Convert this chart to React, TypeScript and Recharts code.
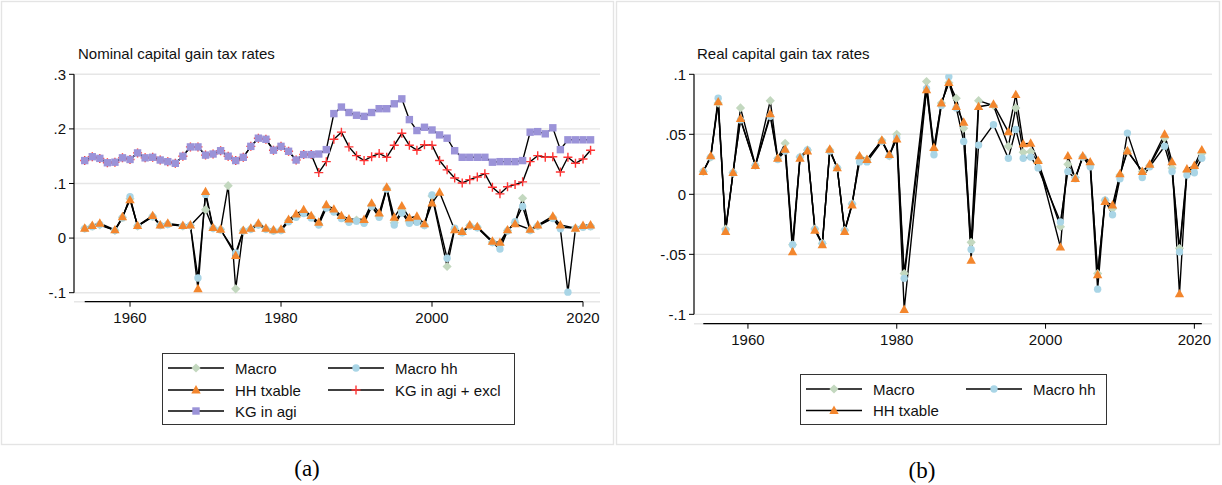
import React from "react";
import { LineChart, Line, XAxis, YAxis, CartesianGrid, ReferenceLine } from "recharts";

const FONT = '"Liberation Sans", Arial, Helvetica, sans-serif';

const years = [
  1954, 1955, 1956, 1957, 1958, 1959, 1960, 1961, 1962, 1963,
  1964, 1965, 1966, 1967, 1968, 1969, 1970, 1971, 1972, 1973,
  1974, 1975, 1976, 1977, 1978, 1979, 1980, 1981, 1982, 1983,
  1984, 1985, 1986, 1987, 1988, 1989, 1990, 1991, 1992, 1993,
  1994, 1995, 1996, 1997, 1998, 1999, 2000, 2001, 2002, 2003,
  2004, 2005, 2006, 2007, 2008, 2009, 2010, 2011, 2012, 2013,
  2014, 2015, 2016, 2017, 2018, 2019, 2020, 2021,
];

// (a) nominal rates
const nominalMacro = [
  0.018, 0.022, 0.024, null, 0.014, 0.038, 0.072, 0.022, null, 0.04,
  0.024, 0.026, null, 0.022, 0.023, null, 0.052, 0.018, 0.016, 0.096,
  -0.093, 0.014, 0.017, 0.025, 0.017, 0.014, 0.015, 0.032, 0.04, 0.048,
  0.039, 0.026, 0.057, 0.049, 0.038, 0.031, 0.033, 0.029, 0.06, 0.041,
  0.091, 0.028, 0.05, 0.03, 0.032, 0.024, 0.077, null, -0.052, 0.016,
  0.011, 0.023, 0.02, null, -0.007, -0.012, 0.014, 0.028, 0.073, 0.015,
  0.023, null, 0.038, 0.02, null, 0.018, 0.021, 0.022,
];
const nominalMacroHh = [
  0.017, 0.021, 0.025, null, 0.014, 0.037, 0.076, 0.022, null, 0.039,
  0.023, 0.025, null, 0.022, 0.023, -0.073, 0.08, 0.018, 0.015, null,
  -0.027, 0.013, 0.016, 0.024, 0.016, 0.013, 0.014, 0.03, 0.038, 0.045,
  0.037, 0.024, 0.055, 0.048, 0.036, 0.029, 0.031, 0.027, 0.058, 0.038,
  0.09, 0.024, 0.046, 0.027, 0.029, 0.023, 0.079, null, -0.037, 0.018,
  0.01, 0.022, 0.019, null, -0.008, -0.02, 0.013, 0.03, 0.058, 0.014,
  0.022, null, 0.036, 0.017, -0.099, 0.017, 0.02, 0.021,
];
const nominalHhTxable = [
  0.018, 0.023, 0.027, null, 0.015, 0.039, 0.07, 0.023, null, 0.041,
  0.024, 0.027, null, 0.023, 0.024, -0.093, 0.085, 0.019, 0.016, null,
  -0.032, 0.014, 0.018, 0.027, 0.018, 0.015, 0.016, 0.034, 0.044, 0.052,
  0.041, 0.029, 0.061, 0.053, 0.041, 0.035, null, 0.034, 0.064, 0.046,
  0.093, 0.038, 0.059, 0.037, 0.04, 0.026, 0.064, 0.084, null, 0.015,
  0.012, 0.024, 0.021, null, -0.006, -0.008, 0.015, 0.026, null, 0.016,
  0.024, null, 0.04, 0.024, null, 0.018, 0.023, 0.024,
];
const nominalKgAgiExcl = [
  0.142, 0.149, 0.146, 0.138, 0.139, 0.147, 0.144, 0.156, 0.147, 0.148,
  0.143, 0.14, 0.137, 0.15, 0.167, 0.167, 0.152, 0.154, 0.16, 0.15,
  0.142, 0.148, 0.168, 0.183, 0.181, 0.161, 0.168, 0.159, 0.143, 0.153,
  0.153, 0.12, 0.14, 0.181, 0.194, 0.167, 0.151, 0.142, 0.149, 0.155,
  0.148, 0.17, 0.192, 0.17, 0.161, 0.171, 0.17, 0.142, 0.125, 0.11,
  0.101, 0.107, 0.112, 0.118, 0.093, 0.081, 0.094, 0.098, 0.103, 0.14,
  0.151, 0.148, 0.149, 0.121, 0.148, 0.137, 0.145, 0.161,
];
const nominalKgAgi = [
  0.142, 0.149, 0.146, 0.138, 0.139, 0.147, 0.144, 0.156, 0.147, 0.148,
  0.143, 0.14, 0.137, 0.15, 0.167, 0.167, 0.152, 0.154, 0.16, 0.15,
  0.142, 0.148, 0.168, 0.183, 0.181, 0.161, 0.168, 0.159, 0.143, 0.153,
  0.153, 0.154, 0.162, 0.228, 0.24, 0.23, 0.225, 0.223, 0.23, 0.237,
  0.237, 0.246, 0.255, 0.217, 0.197, 0.203, 0.198, 0.189, 0.183, 0.16,
  0.148, 0.148, 0.148, 0.148, 0.139, 0.14, 0.14, 0.14, 0.142, 0.194,
  0.195, 0.191, 0.202, 0.162, 0.18, 0.18, 0.18, 0.18,
];

// (b) real rates
const realMacro = [
  0.019, 0.031, 0.076, -0.029, 0.018, 0.072, null, 0.024, null, 0.078,
  0.03, 0.0425, -0.042, 0.031, 0.037, -0.029, -0.041, 0.037, 0.022, -0.03,
  -0.008, 0.031, 0.029, null, 0.045, 0.032, 0.05, -0.066, null, null,
  0.094, 0.037, 0.076, 0.093, 0.08, 0.055, -0.04, 0.078, null, 0.074,
  null, 0.04, 0.072, 0.035, 0.0355, 0.027, null, null, -0.027, 0.025,
  0.014, 0.031, 0.025, -0.066, -0.005, -0.012, 0.016, 0.036, null, 0.019,
  0.024, null, 0.047, 0.022, -0.045, 0.019, 0.022, 0.034,
];
const realMacroHh = [
  0.019, 0.031, 0.08, -0.03, 0.018, 0.062, null, 0.024, null, 0.065,
  0.029, 0.036, -0.042, 0.031, 0.037, -0.029, -0.041, 0.036, 0.022, -0.03,
  -0.008, 0.027, 0.027, null, 0.044, 0.032, 0.047, -0.07, null, null,
  0.088, 0.033, 0.074, 0.098, 0.072, 0.044, -0.046, 0.041, null, 0.058,
  null, 0.03, 0.054, 0.03, 0.031, 0.022, null, null, -0.023, 0.019,
  0.013, 0.031, 0.023, -0.079, -0.005, -0.017, 0.013, 0.051, null, 0.014,
  0.023, null, 0.04, 0.019, -0.048, 0.016, 0.018, 0.03,
];
const realHhTxable = [
  0.019, 0.032, 0.077, -0.031, 0.018, 0.063, null, 0.024, null, 0.067,
  0.03, 0.0375, -0.048, 0.03, 0.036, -0.03, -0.042, 0.0375, 0.022, -0.031,
  -0.009, 0.032, 0.029, null, 0.045, 0.033, 0.046, -0.096, null, null,
  0.087, 0.039, 0.076, 0.093, 0.073, 0.06, -0.055, 0.073, null, 0.075,
  null, 0.052, 0.083, 0.042, 0.0425, 0.028, null, null, -0.044, 0.032,
  0.013, 0.032, 0.027, -0.067, -0.006, -0.009, 0.017, 0.036, null, 0.019,
  0.025, null, 0.05, 0.027, -0.083, 0.021, 0.024, 0.037,
];

const nominalTicks = [-0.1, 0, 0.1, 0.2, 0.3];
const realTicks = [-0.1, -0.05, 0, 0.05, 0.1];
const yearTicks = [1960, 1980, 2000, 2020];

const GREEN = "#c3d8bf";
const BLUE = "#a9d5e6";
const ORANGE = "#f3862d";
const RED = "#ff3434";
const PURPLE = "#9b93d8";

type Kind = "diamond" | "circle" | "triangle" | "plus" | "square";
type Series = { key: string; name: string; kind: Kind; color: string };

const nominalSeries: Series[] = [
  { key: "macro", name: "Macro", kind: "diamond", color: GREEN },
  { key: "macroHh", name: "Macro hh", kind: "circle", color: BLUE },
  { key: "hhTxable", name: "HH txable", kind: "triangle", color: ORANGE },
  { key: "kgExcl", name: "KG in agi + excl", kind: "plus", color: RED },
  { key: "kgAgi", name: "KG in agi", kind: "square", color: PURPLE },
];
const realSeries: Series[] = nominalSeries.slice(0, 3);

const nominalData = years.map((year, i) => ({
  year,
  macro: nominalMacro[i],
  macroHh: nominalMacroHh[i],
  hhTxable: nominalHhTxable[i],
  kgExcl: nominalKgAgiExcl[i],
  kgAgi: nominalKgAgi[i],
}));
const realData = years.map((year, i) => ({
  year,
  macro: realMacro[i],
  macroHh: realMacroHh[i],
  hhTxable: realHhTxable[i],
}));

function Marker({ kind, cx, cy, color }: { kind: Kind; cx: number; cy: number; color: string }) {
  if (kind === "diamond")
    return <polygon points={`${cx},${cy - 4.6} ${cx + 4.6},${cy} ${cx},${cy + 4.6} ${cx - 4.6},${cy}`} fill={color} />;
  if (kind === "circle") return <circle cx={cx} cy={cy} r={3.7} fill={color} />;
  if (kind === "triangle")
    return <polygon points={`${cx},${cy - 5} ${cx + 4.7},${cy + 3.4} ${cx - 4.7},${cy + 3.4}`} fill={color} />;
  if (kind === "square") return <rect x={cx - 3.7} y={cy - 3.7} width={7.4} height={7.4} fill={color} />;
  return (
    <path d={`M${cx - 4.5},${cy}H${cx + 4.5}M${cx},${cy - 4.5}V${cy + 4.5}`} stroke={color} strokeWidth={1.4} />
  );
}

const dotFor = (s: Series) => (props: any) => {
  const { cx, cy, index, value } = props;
  const k = `${s.key}-${index}`;
  if (value == null || cx == null || cy == null || Number.isNaN(cy)) return <g key={k} />;
  return (
    <g key={k}>
      <Marker kind={s.kind} cx={cx} cy={cy} color={s.color} />
    </g>
  );
};

const fmtY = (v: number) => (v === 0 ? "0" : String(v).replace("0.", "."));

function Panel({
  data,
  series,
  width,
  margin,
  xDomain,
  yDomain,
  yTicks,
  axisEnd,
}: {
  data: any[];
  series: Series[];
  width: number;
  margin: { top: number; right: number; bottom: number; left: number };
  xDomain: [number, number];
  yDomain: [number, number];
  yTicks: number[];
  axisEnd: number;
}) {
  const tickStyle = { fontSize: 15, fill: "#111", fontFamily: FONT };
  return (
    <LineChart width={width} height={445} data={data} margin={margin}>
      <CartesianGrid vertical={false} stroke="#e6e6e6" strokeWidth={1.4} />
      <XAxis
        dataKey="year"
        type="number"
        domain={xDomain}
        ticks={yearTicks}
        axisLine={false}
        tickLine={{ stroke: "#000" }}
        tickSize={5}
        tickMargin={6}
        height={30}
        tick={tickStyle}
        allowDataOverflow
      />
      <YAxis
        type="number"
        domain={yDomain}
        ticks={yTicks}
        axisLine={false}
        tickLine={{ stroke: "#000" }}
        tickSize={5}
        tickMargin={3}
        width={44}
        tick={tickStyle}
        tickFormatter={fmtY}
        allowDataOverflow
      />
      <ReferenceLine
        segment={[{ x: xDomain[0], y: yTicks[0] }, { x: xDomain[0], y: yTicks[yTicks.length - 1] }]}
        stroke="#000"
        strokeWidth={1.2}
        ifOverflow="visible"
      />
      <ReferenceLine
        segment={[{ x: 1954, y: yDomain[0] }, { x: axisEnd, y: yDomain[0] }]}
        stroke="#000"
        strokeWidth={1.2}
        ifOverflow="visible"
      />
      {series.map((s) => (
        <Line
          key={s.key}
          type="linear"
          dataKey={s.key}
          name={s.name}
          stroke="#000"
          strokeWidth={1.4}
          connectNulls
          dot={dotFor(s)}
          activeDot={false}
          isAnimationActive={false}
        />
      ))}
    </LineChart>
  );
}

function LegendBox({
  series,
  x,
  y,
  w,
  h,
  rows,
  cols,
}: {
  series: Series[];
  x: number;
  y: number;
  w: number;
  h: number;
  rows: number[];
  cols: number[];
}) {
  return (
    <svg style={{ position: "absolute", left: x, top: y }} width={w} height={h}>
      <rect x={0.5} y={0.5} width={w - 1} height={h - 1} fill="#fff" stroke="#333" strokeWidth={1} />
      {series.map((s, i) => {
        const cx = cols[i % 2];
        const cy = rows[Math.floor(i / 2)];
        return (
          <g key={s.key}>
            <line x1={cx} x2={cx + 56} y1={cy} y2={cy} stroke="#000" strokeWidth={1.3} />
            <Marker kind={s.kind} cx={cx + 28} cy={cy} color={s.color} />
            <text x={cx + 67} y={cy} dominantBaseline="central" fontSize={15} fontFamily={FONT} fill="#111">
              {s.name}
            </text>
          </g>
        );
      })}
    </svg>
  );
}

export default function App() {
  const titleStyle: React.CSSProperties = {
    position: "absolute",
    top: 46,
    fontFamily: FONT,
    fontSize: 15,
    lineHeight: "15px",
    color: "#111",
    whiteSpace: "nowrap",
  };
  const capStyle: React.CSSProperties = {
    position: "absolute",
    fontFamily: '"Liberation Serif", "Times New Roman", serif',
    fontSize: 23,
    lineHeight: "23px",
    color: "#000",
    transform: "translate(-50%, -50%)",
  };
  return (
    <div style={{ position: "absolute", left: 0, top: 0, width: 1222, height: 485, background: "#fff" }}>
      <svg style={{ position: "absolute", left: 0, top: 0 }} width={1222} height={485}>
        <rect x={1.5} y={1.5} width={612} height={443} fill="none" stroke="#e4e4e4" strokeWidth={1.4} />
        <rect x={616.5} y={1.5} width={603} height={443} fill="none" stroke="#e4e4e4" strokeWidth={1.4} />
      </svg>
      <div style={{ position: "absolute", left: 0, top: 0 }}>
        <Panel
          data={nominalData}
          series={nominalSeries}
          width={614}
          margin={{ top: 74.3, right: 14, bottom: 113.3, left: 30 }}
          xDomain={[1952.58, 2022.25]}
          yDomain={[-0.1165, 0.3]}
          yTicks={nominalTicks}
          axisEnd={2020}
        />
      </div>
      <div style={{ position: "absolute", left: 614, top: 0 }}>
        <Panel
          data={realData}
          series={realSeries}
          width={608}
          margin={{ top: 74.3, right: 10, bottom: 91.3, left: 36 }}
          xDomain={[1952.75, 2022.37]}
          yDomain={[-0.1078, 0.1]}
          yTicks={realTicks}
          axisEnd={2021}
        />
      </div>
      <div style={{ ...titleStyle, left: 78 }}>Nominal capital gain tax rates</div>
      <div style={{ ...titleStyle, left: 697 }}>Real capital gain tax rates</div>
      <LegendBox series={nominalSeries} x={162} y={353} w={353} h={72} rows={[15, 37, 58]} cols={[6, 166]} />
      <LegendBox series={realSeries} x={800} y={374} w={307} h={51} rows={[15, 36.5]} cols={[6, 166]} />
      <div style={{ ...capStyle, left: 307, top: 468 }}>(a)</div>
      <div style={{ ...capStyle, left: 922, top: 470 }}>(b)</div>
    </div>
  );
}
